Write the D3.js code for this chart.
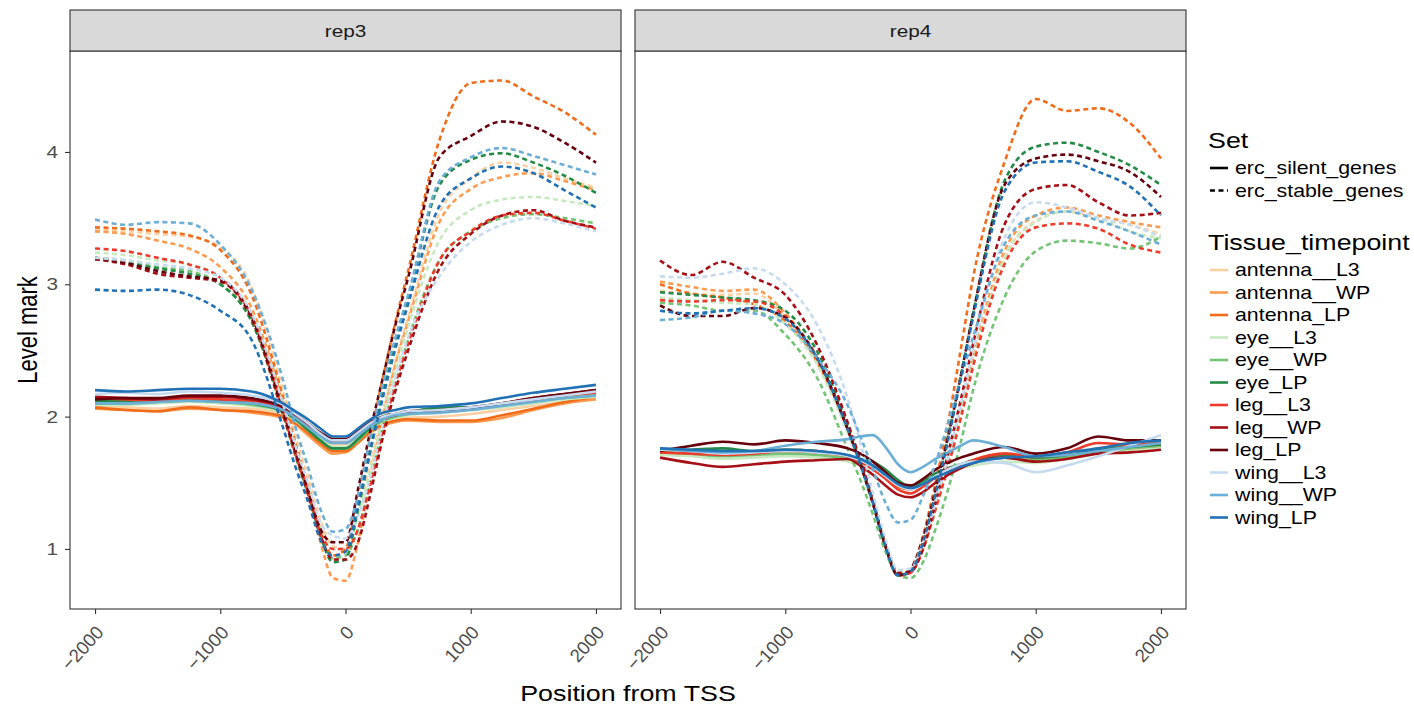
<!DOCTYPE html>
<html>
<head>
<meta charset="utf-8">
<script src="https://cdn.jsdelivr.net/npm/d3@7"></script>
<style>
  body { margin: 0; background: #fff; }
  text { font-family: "Liberation Sans", Arial, Helvetica, sans-serif; }
</style>
</head>
<body>
<svg id="chart"></svg>
<script>
// positions (bp from TSS) shared by every profile
const positions = [-2000, -1750, -1500, -1250, -1000, -750, -500, -400, -300, -200, -100, 0,
                   100, 200, 300, 400, 500, 750, 1000, 1250, 1500, 1750, 2000];

const tissues = ["antenna__L3", "antenna__WP", "antenna_LP", "eye__L3", "eye__WP", "eye_LP",
                 "leg__L3", "leg__WP", "leg_LP", "wing__L3", "wing__WP", "wing_LP"];
const tissueColors = ["#fdd0a2", "#fd9b50", "#f16c1a", "#c7e9c0", "#74c476", "#238b45",
                      "#ef3b2c", "#a50f15", "#67000d", "#c6dbef", "#6baed6", "#2171b5"];
const sets = ["erc_silent_genes", "erc_stable_genes"];
const panels = ["rep3", "rep4"];
const xTicks = [-2000, -1000, 0, 1000, 2000];
const yTicks = [1, 2, 3, 4];

// rows follow the tissues order
const rep3Silent = [
  [2.08, 2.07, 2.06, 2.08, 2.07, 2.06, 2.02, 1.97, 1.90, 1.84, 1.79, 1.79, 1.84, 1.92, 1.96, 1.98, 1.99, 2.00, 2.02, 2.05, 2.08, 2.11, 2.14],
  [2.06, 2.05, 2.04, 2.06, 2.05, 2.03, 1.99, 1.94, 1.86, 1.78, 1.72, 1.73, 1.80, 1.88, 1.93, 1.96, 1.97, 1.96, 1.96, 1.99, 2.05, 2.10, 2.13],
  [2.07, 2.05, 2.04, 2.07, 2.05, 2.04, 2.00, 1.95, 1.88, 1.80, 1.74, 1.74, 1.81, 1.89, 1.94, 1.97, 1.98, 1.97, 1.97, 2.01, 2.06, 2.11, 2.15],
  [2.09, 2.09, 2.10, 2.11, 2.10, 2.08, 2.03, 1.97, 1.90, 1.83, 1.77, 1.77, 1.83, 1.92, 1.97, 1.99, 2.01, 2.03, 2.05, 2.07, 2.10, 2.13, 2.15],
  [2.10, 2.10, 2.11, 2.12, 2.11, 2.09, 2.04, 1.98, 1.90, 1.82, 1.76, 1.76, 1.82, 1.91, 1.97, 2.00, 2.02, 2.06, 2.06, 2.09, 2.12, 2.14, 2.16],
  [2.12, 2.12, 2.12, 2.13, 2.12, 2.10, 2.04, 1.98, 1.90, 1.82, 1.76, 1.76, 1.83, 1.92, 1.98, 2.01, 2.03, 2.07, 2.07, 2.10, 2.13, 2.16, 2.18],
  [2.14, 2.13, 2.12, 2.14, 2.13, 2.12, 2.06, 2.00, 1.93, 1.86, 1.81, 1.81, 1.87, 1.94, 1.99, 2.01, 2.03, 2.04, 2.06, 2.09, 2.13, 2.16, 2.18],
  [2.15, 2.14, 2.13, 2.15, 2.15, 2.13, 2.07, 2.01, 1.94, 1.87, 1.82, 1.82, 1.88, 1.95, 1.99, 2.01, 2.03, 2.04, 2.06, 2.10, 2.14, 2.17, 2.20],
  [2.13, 2.14, 2.14, 2.16, 2.16, 2.14, 2.08, 2.02, 1.95, 1.88, 1.83, 1.83, 1.89, 1.96, 2.00, 2.02, 2.04, 2.05, 2.07, 2.10, 2.14, 2.17, 2.20],
  [2.17, 2.18, 2.17, 2.19, 2.18, 2.16, 2.09, 2.02, 1.95, 1.87, 1.82, 1.82, 1.88, 1.95, 2.00, 2.02, 2.04, 2.05, 2.07, 2.10, 2.13, 2.16, 2.19],
  [2.10, 2.10, 2.11, 2.12, 2.11, 2.10, 2.05, 1.99, 1.92, 1.85, 1.80, 1.80, 1.86, 1.93, 1.98, 2.01, 2.02, 2.03, 2.05, 2.08, 2.11, 2.14, 2.16],
  [2.20, 2.19, 2.20, 2.21, 2.21, 2.19, 2.10, 2.04, 1.98, 1.91, 1.85, 1.85, 1.91, 1.98, 2.03, 2.05, 2.07, 2.08, 2.10, 2.14, 2.18, 2.21, 2.24]
];
const rep3Stable = [
  [3.41, 3.40, 3.38, 3.36, 3.28, 2.98, 2.20, 1.85, 1.55, 1.22, 1.02, 1.00, 1.28, 1.65, 2.05, 2.42, 2.75, 3.54, 3.80, 3.92, 3.88, 3.80, 3.73],
  [3.40, 3.38, 3.33, 3.27, 3.13, 2.82, 2.10, 1.72, 1.40, 1.05, 0.78, 0.76, 1.05, 1.55, 2.00, 2.40, 2.72, 3.47, 3.72, 3.81, 3.84, 3.78, 3.71],
  [3.43, 3.42, 3.40, 3.37, 3.26, 2.92, 2.15, 1.80, 1.48, 1.15, 0.95, 1.00, 1.40, 1.85, 2.30, 2.72, 3.10, 4.09, 4.52, 4.54, 4.42, 4.30, 4.13],
  [3.24, 3.22, 3.18, 3.15, 3.05, 2.78, 2.08, 1.75, 1.45, 1.15, 1.00, 1.00, 1.25, 1.60, 2.00, 2.35, 2.68, 3.33, 3.56, 3.64, 3.66, 3.63, 3.59],
  [3.20, 3.18, 3.13, 3.10, 3.00, 2.72, 2.02, 1.70, 1.42, 1.10, 0.93, 0.95, 1.15, 1.50, 1.92, 2.25, 2.58, 3.18, 3.40, 3.50, 3.53, 3.50, 3.46],
  [3.19, 3.16, 3.12, 3.08, 3.00, 2.72, 2.05, 1.72, 1.42, 1.10, 0.90, 0.92, 1.30, 1.75, 2.20, 2.58, 2.90, 3.75, 3.94, 3.99, 3.92, 3.82, 3.69],
  [3.27, 3.25, 3.20, 3.15, 3.05, 2.76, 2.05, 1.72, 1.44, 1.12, 1.00, 1.00, 1.15, 1.50, 1.90, 2.25, 2.55, 3.18, 3.40, 3.52, 3.54, 3.48, 3.42],
  [3.19, 3.15, 3.08, 3.05, 3.02, 2.74, 2.02, 1.72, 1.42, 1.10, 0.92, 0.92, 1.05, 1.42, 1.85, 2.20, 2.50, 3.12, 3.38, 3.52, 3.56, 3.48, 3.43],
  [3.20, 3.16, 3.10, 3.06, 3.03, 2.76, 2.05, 1.75, 1.45, 1.15, 1.05, 1.05, 1.45, 1.90, 2.30, 2.70, 3.05, 3.96, 4.12, 4.23, 4.19, 4.07, 3.92],
  [3.20, 3.18, 3.15, 3.12, 3.05, 2.78, 2.10, 1.78, 1.50, 1.20, 1.10, 1.08, 1.25, 1.55, 1.95, 2.30, 2.60, 3.06, 3.32, 3.45, 3.50, 3.46, 3.40],
  [3.49, 3.45, 3.47, 3.46, 3.30, 2.96, 2.28, 1.92, 1.62, 1.30, 1.13, 1.15, 1.40, 1.85, 2.25, 2.60, 2.92, 3.78, 3.96, 4.03, 3.97, 3.90, 3.83],
  [2.96, 2.95, 2.96, 2.92, 2.80, 2.58, 1.92, 1.62, 1.36, 1.07, 0.95, 0.98, 1.32, 1.75, 2.15, 2.52, 2.85, 3.59, 3.80, 3.89, 3.84, 3.71, 3.58]
];
const rep4Silent = [
  [1.72, 1.72, 1.71, 1.72, 1.73, 1.72, 1.68, 1.65, 1.60, 1.54, 1.48, 1.47, 1.51, 1.56, 1.59, 1.62, 1.65, 1.70, 1.68, 1.70, 1.73, 1.74, 1.76],
  [1.73, 1.73, 1.72, 1.72, 1.74, 1.73, 1.69, 1.66, 1.61, 1.55, 1.49, 1.47, 1.50, 1.55, 1.59, 1.63, 1.66, 1.71, 1.70, 1.71, 1.74, 1.75, 1.77],
  [1.74, 1.73, 1.72, 1.73, 1.75, 1.74, 1.70, 1.66, 1.61, 1.54, 1.47, 1.45, 1.50, 1.56, 1.60, 1.63, 1.67, 1.72, 1.69, 1.70, 1.76, 1.78, 1.80],
  [1.71, 1.70, 1.68, 1.69, 1.70, 1.69, 1.66, 1.63, 1.60, 1.55, 1.49, 1.46, 1.50, 1.55, 1.58, 1.61, 1.63, 1.66, 1.65, 1.68, 1.72, 1.74, 1.76],
  [1.73, 1.72, 1.70, 1.71, 1.72, 1.71, 1.68, 1.66, 1.63, 1.57, 1.50, 1.47, 1.50, 1.55, 1.59, 1.62, 1.65, 1.69, 1.67, 1.69, 1.73, 1.76, 1.78],
  [1.74, 1.75, 1.76, 1.74, 1.75, 1.74, 1.70, 1.68, 1.66, 1.60, 1.52, 1.47, 1.51, 1.57, 1.61, 1.64, 1.67, 1.71, 1.69, 1.71, 1.75, 1.77, 1.79],
  [1.73, 1.72, 1.71, 1.72, 1.74, 1.73, 1.70, 1.66, 1.60, 1.53, 1.45, 1.42, 1.47, 1.54, 1.58, 1.63, 1.67, 1.72, 1.70, 1.73, 1.80, 1.79, 1.80],
  [1.69, 1.65, 1.62, 1.64, 1.66, 1.67, 1.68, 1.63, 1.56, 1.48, 1.41, 1.39, 1.43, 1.50, 1.56, 1.61, 1.65, 1.69, 1.66, 1.68, 1.72, 1.73, 1.75],
  [1.74, 1.78, 1.81, 1.79, 1.82, 1.80, 1.76, 1.72, 1.66, 1.58, 1.50, 1.48, 1.53, 1.60, 1.65, 1.69, 1.72, 1.77, 1.72, 1.76, 1.85, 1.82, 1.82],
  [1.75, 1.74, 1.72, 1.73, 1.74, 1.73, 1.70, 1.67, 1.62, 1.55, 1.48, 1.45, 1.49, 1.55, 1.60, 1.64, 1.66, 1.65, 1.58, 1.63, 1.70, 1.78, 1.86],
  [1.76, 1.74, 1.73, 1.74, 1.78, 1.81, 1.83, 1.85, 1.86, 1.77, 1.64, 1.58, 1.62, 1.68, 1.73, 1.78, 1.82, 1.77, 1.70, 1.71, 1.74, 1.77, 1.80],
  [1.76, 1.75, 1.74, 1.74, 1.75, 1.74, 1.71, 1.68, 1.63, 1.56, 1.49, 1.46, 1.49, 1.54, 1.58, 1.62, 1.65, 1.69, 1.70, 1.73, 1.76, 1.80, 1.82]
];
const rep4Stable = [
  [2.95, 2.93, 2.92, 2.93, 2.75, 2.42, 1.88, 1.63, 1.34, 1.02, 0.82, 0.84, 1.00, 1.30, 1.65, 2.02, 2.42, 3.20, 3.48, 3.55, 3.50, 3.45, 3.38],
  [3.02, 2.98, 2.95, 2.96, 2.78, 2.45, 1.90, 1.64, 1.35, 1.02, 0.80, 0.82, 1.00, 1.32, 1.68, 2.05, 2.45, 3.25, 3.52, 3.58, 3.52, 3.47, 3.43],
  [3.00, 2.93, 2.90, 2.85, 2.72, 2.42, 1.90, 1.64, 1.35, 1.02, 0.80, 0.84, 1.10, 1.50, 1.95, 2.50, 3.05, 3.92, 4.40, 4.31, 4.33, 4.22, 3.95],
  [2.90, 2.88, 2.86, 2.85, 2.70, 2.40, 1.87, 1.62, 1.33, 1.02, 0.82, 0.83, 1.00, 1.30, 1.65, 2.00, 2.40, 3.20, 3.47, 3.55, 3.50, 3.40, 3.35],
  [2.86, 2.84, 2.80, 2.80, 2.62, 2.30, 1.75, 1.52, 1.26, 0.98, 0.80, 0.78, 0.90, 1.15, 1.45, 1.80, 2.20, 2.90, 3.25, 3.33, 3.31, 3.27, 3.36],
  [2.94, 2.92, 2.90, 2.88, 2.80, 2.50, 1.93, 1.66, 1.36, 1.03, 0.80, 0.82, 1.05, 1.42, 1.85, 2.30, 2.78, 3.78, 4.04, 4.07, 4.00, 3.90, 3.75],
  [2.88, 2.87, 2.88, 2.87, 2.76, 2.45, 1.90, 1.64, 1.35, 1.02, 0.80, 0.82, 1.00, 1.30, 1.62, 1.98, 2.38, 3.15, 3.43, 3.46, 3.42, 3.30, 3.24],
  [3.18, 3.07, 3.17, 3.05, 2.92, 2.55, 1.95, 1.67, 1.37, 1.04, 0.82, 0.83, 1.00, 1.35, 1.72, 2.12, 2.55, 3.45, 3.72, 3.75, 3.62, 3.52, 3.54],
  [2.84, 2.76, 2.76, 2.82, 2.75, 2.45, 1.90, 1.64, 1.34, 1.02, 0.80, 0.85, 1.08, 1.45, 1.85, 2.30, 2.78, 3.75, 3.95, 3.98, 3.93, 3.85, 3.66],
  [3.06, 3.05, 3.08, 3.12, 3.00, 2.70, 2.13, 1.80, 1.42, 1.07, 0.84, 0.85, 1.05, 1.35, 1.70, 2.08, 2.50, 3.35, 3.62, 3.58, 3.50, 3.45, 3.36],
  [2.73, 2.75, 2.80, 2.78, 2.70, 2.45, 2.08, 1.85, 1.60, 1.35, 1.20, 1.22, 1.40, 1.65, 1.95, 2.28, 2.60, 3.30, 3.52, 3.55, 3.48, 3.40, 3.30],
  [2.80, 2.78, 2.80, 2.82, 2.74, 2.45, 1.90, 1.64, 1.35, 1.02, 0.80, 0.83, 1.05, 1.42, 1.82, 2.28, 2.75, 3.70, 3.92, 3.93, 3.85, 3.74, 3.52]
];

const W = 1414, H = 709;
const panelLeft = [70, 635];
const panelW = 551;
const stripTop = 10, plotTop = 51, plotBottom = 609;
// the picture is wider than tall, text comes out horizontally stretched
const stretch = 1.22;

const svg = d3.select("#chart").attr("width", W).attr("height", H);

// ggplot-style 5% expansion on both axes
const x = d3.scaleLinear().domain([-2200, 2200]).range([0, panelW]);
const y = d3.scaleLinear().domain([0.546, 4.763]).range([plotBottom, plotTop]);

const line = d3.line()
    .x((d, i) => x(positions[i]))
    .y(d => y(d))
    .curve(d3.curveMonotoneX);

const panelValues = [
    [rep3Silent, rep3Stable],
    [rep4Silent, rep4Stable]
];

function label(parent, px, py, str, size, anchor, rotate) {
    return parent.append("text")
        .attr("transform", `translate(${px},${py}) scale(${stretch},1)` + (rotate ? ` rotate(${rotate})` : ""))
        .attr("text-anchor", anchor || "start")
        .style("font-size", size + "px")
        .text(str);
}

panels.forEach((name, pi) => {
    const g = svg.append("g").attr("transform", `translate(${panelLeft[pi]},0)`);

    g.append("clipPath").attr("id", "clip" + pi)
        .append("rect").attr("x", 0).attr("y", plotTop)
        .attr("width", panelW).attr("height", plotBottom - plotTop);

    const lines = g.append("g").attr("clip-path", `url(#clip${pi})`);

    // group order: tissue, then set
    tissues.forEach((t, ti) => {
        sets.forEach((s, si) => {
            lines.append("path")
                .datum(panelValues[pi][si][ti])
                .attr("d", line)
                .attr("fill", "none")
                .attr("stroke", tissueColors[ti])
                .attr("stroke-width", 2.6)
                .attr("stroke-linejoin", "round")
                .attr("stroke-dasharray", si === 1 ? "5,3.5" : null);
        });
    });

    // panel border
    g.append("rect")
        .attr("x", 0).attr("y", plotTop)
        .attr("width", panelW).attr("height", plotBottom - plotTop)
        .attr("fill", "none").attr("stroke", "#333333").attr("stroke-width", 1.1);

    // facet strip
    g.append("rect")
        .attr("x", 0).attr("y", stripTop)
        .attr("width", panelW).attr("height", plotTop - stripTop)
        .attr("fill", "#d9d9d9").attr("stroke", "#333333").attr("stroke-width", 1.1);
    label(g, panelW / 2, (stripTop + plotTop) / 2 + 6, name, 17, "middle")
        .style("fill", "#1a1a1a");

    // x axis
    const xAxis = g.append("g")
        .attr("transform", `translate(0,${plotBottom})`)
        .call(d3.axisBottom(x).tickValues(xTicks).tickFormat(d3.format("d")).tickSize(5).tickSizeOuter(0));
    xAxis.select(".domain").remove();
    xAxis.selectAll(".tick line").attr("stroke", "#333333").attr("stroke-width", 1.1);
    xAxis.selectAll(".tick text")
        .attr("x", 0).attr("y", 0).attr("dy", 0)
        .attr("transform", "translate(9,24) rotate(-48)")
        .style("text-anchor", "end")
        .style("font-size", "18.5px")
        .style("fill", "#4d4d4d");

    if (pi === 0) {
        const yAxis = g.append("g")
            .call(d3.axisLeft(y).tickValues(yTicks).tickFormat(d3.format("d")).tickSize(5).tickPadding(7).tickSizeOuter(0));
        yAxis.select(".domain").remove();
        yAxis.selectAll(".tick line").attr("stroke", "#333333").attr("stroke-width", 1.1);
        yAxis.selectAll(".tick text")
            .attr("x", -12 / stretch)
            .attr("transform", `scale(${stretch},1)`)
            .style("font-size", "17px")
            .style("fill", "#4d4d4d");
    }
});

// axis titles
label(svg, (panelLeft[0] + panelLeft[1] + panelW) / 2, 701, "Position from TSS", 22, "middle");
label(svg, 37, (plotTop + plotBottom) / 2, "Level mark", 22, "middle", -90);

// legends
const legend = svg.append("g").attr("transform", "translate(1208,0)");

label(legend, 0, 148, "Set", 22);

sets.forEach((s, i) => {
    const cy = 168 + i * 22.5;
    legend.append("line")
        .attr("x1", 2).attr("x2", 20).attr("y1", cy).attr("y2", cy)
        .attr("stroke", "#000").attr("stroke-width", 2.6)
        .attr("stroke-dasharray", i === 1 ? "5,3.5" : null);
    label(legend, 27, cy + 6, s, 17.5);
});

label(legend, 0, 250, "Tissue_timepoint", 22);

tissues.forEach((t, i) => {
    const cy = 270 + i * 22.5;
    legend.append("line")
        .attr("x1", 2).attr("x2", 20).attr("y1", cy).attr("y2", cy)
        .attr("stroke", tissueColors[i]).attr("stroke-width", 2.6);
    label(legend, 27, cy + 6, t, 17.5);
});
</script>
</body>
</html>
